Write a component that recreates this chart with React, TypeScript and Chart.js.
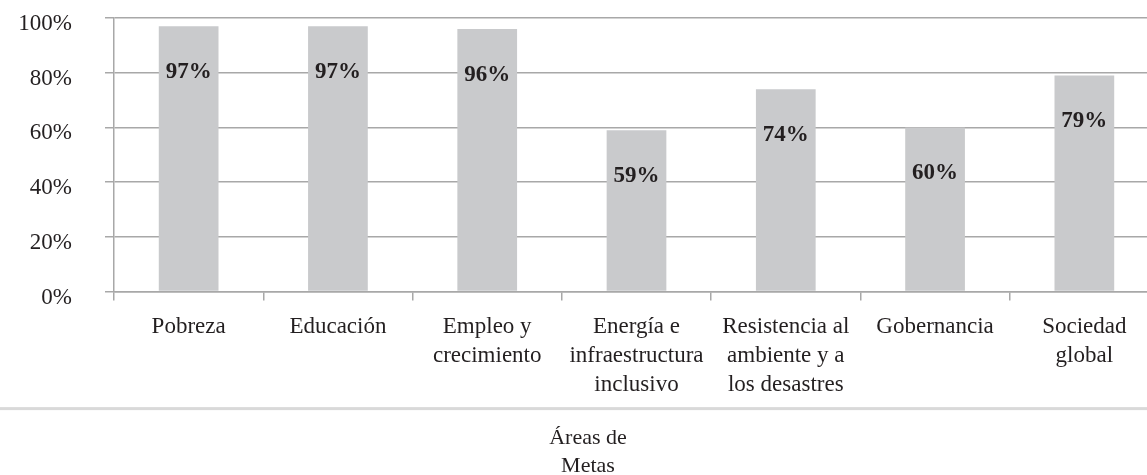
import React, { useEffect, useRef } from 'react';
import { Chart, registerables } from 'chart.js';

Chart.register(...registerables);

const categories: string[][] = [
  ['Pobreza'],
  ['Educación'],
  ['Empleo y', 'crecimiento'],
  ['Energía e', 'infraestructura', 'inclusivo'],
  ['Resistencia al', 'ambiente y a', 'los desastres'],
  ['Gobernancia'],
  ['Sociedad', 'global'],
];
const values: number[] = [97, 97, 96, 59, 74, 60, 79];
const yTickMin = 0;
const yTickMax = 100;
const yTickStep = 20;
const axisTitle: string[] = ['Áreas de', 'Metas'];

const FONT = '"Liberation Serif", "Times New Roman", serif';
const TEXT = '#231f20';
const GRID = '#a8a8a8';

const barLabelPlugin = {
  id: 'barLabels',
  afterDatasetsDraw(chart: any) {
    const ctx = chart.ctx;
    const meta = chart.getDatasetMeta(0);
    ctx.save();
    ctx.font = `bold 23px ${FONT}`;
    ctx.fillStyle = TEXT;
    ctx.textAlign = 'center';
    ctx.textBaseline = 'middle';
    meta.data.forEach((bar: any, i: number) => {
      ctx.fillText(values[i] + '%', bar.x, bar.y + 46);
    });
    ctx.restore();
  },
};

const separatorPlugin = {
  id: 'separator',
  afterDraw(chart: any) {
    const ctx = chart.ctx;
    const xs = chart.scales.x;
    ctx.save();
    ctx.fillStyle = '#d9d9d9';
    ctx.fillRect(0, xs.bottom - 1.5, chart.width, 3);
    ctx.restore();
  },
};

export default function App() {
  const ref = useRef<HTMLCanvasElement | null>(null);
  useEffect(() => {
    if (!ref.current) return;
    const chart = new Chart(ref.current, {
      type: 'bar',
      data: {
        labels: categories,
        datasets: [
          {
            data: values,
            backgroundColor: '#c9cacc',
            borderWidth: 0,
            categoryPercentage: 1,
            barPercentage: 0.4,
          },
        ],
      },
      options: {
        responsive: false,
        animation: false,
        layout: { padding: { top: 0, right: 0, left: 0, bottom: 0 } },
        plugins: {
          legend: { display: false },
          tooltip: { enabled: false },
          title: {
            display: true,
            position: 'bottom',
            text: axisTitle,
            color: TEXT,
            font: { family: FONT, size: 22, weight: 'normal', lineHeight: 1.27 },
            padding: { top: 15.5, bottom: 0 },
          },
        },
        scales: {
          x: {
            grid: {
              drawOnChartArea: false,
              drawTicks: true,
              tickLength: 9,
              color: GRID,
              lineWidth: 1.5,
            },
            border: { display: true, color: GRID, width: 1.5 },
            ticks: {
              color: TEXT,
              font: { family: FONT, size: 23, lineHeight: 1.26 },
              padding: 12,
              maxRotation: 0,
              autoSkip: false,
            },
            afterFit(scale: any) {
              scale.height = 117;
            },
          },
          y: {
            min: yTickMin,
            max: yTickMax,
            ticks: {
              stepSize: yTickStep,
              color: TEXT,
              font: { family: FONT, size: 23 },
              padding: 33,
              labelOffset: 6,
              callback: (v: any) => v + '%',
            },
            grid: { color: GRID, lineWidth: 1.5, tickLength: 9 },
            border: { display: true, color: GRID, width: 1.5 },
            afterFit(scale: any) {
              scale.width = 114;
              scale.paddingTop = 18;
              scale.paddingBottom = 14;
            },
          },
          y2: {
            position: 'right',
            min: 0,
            max: 1,
            grid: { display: false, drawTicks: false },
            ticks: { display: false },
            border: { display: false },
            afterFit(scale: any) {
              scale.width = 17;
            },
          },
        },
      },
      plugins: [barLabelPlugin, separatorPlugin],
    } as any);
    return () => chart.destroy();
  }, []);
  return (
    <div
      style={{
        position: 'fixed',
        left: 0,
        top: 0,
        width: 1147,
        height: 475,
        overflow: 'hidden',
        background: '#ffffff',
      }}
    >
      <canvas ref={ref} width={1176} height={480} style={{ width: 1176, height: 480, display: 'block' }} />
    </div>
  );
}
